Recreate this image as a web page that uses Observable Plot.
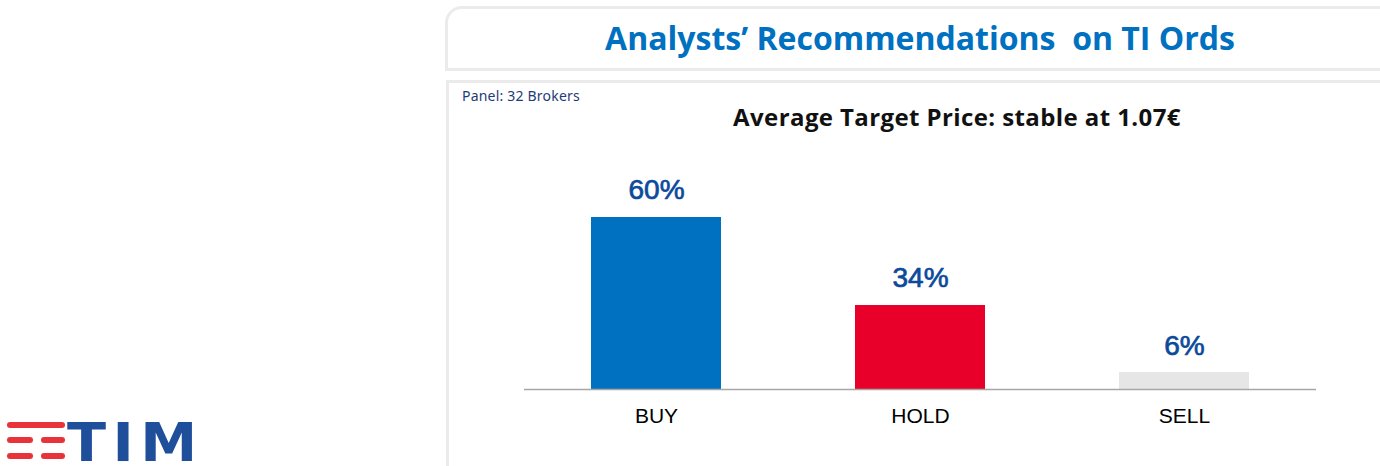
<!DOCTYPE html>
<html>
<head>
<meta charset="utf-8">
<script src="https://cdn.jsdelivr.net/npm/d3@7"></script>
<script src="https://cdn.jsdelivr.net/npm/@observablehq/plot@0.6"></script>
<style>
  html, body { margin: 0; padding: 0; background: #fff; }
  #page { position: relative; width: 1380px; height: 466px; overflow: hidden; font-family: "Liberation Sans", Arial, sans-serif; }
  #titlebox { position: absolute; left: 445px; top: 6px; width: 960px; height: 59px; border: 3px solid #ebebeb; border-top-left-radius: 17px; }
  #title { position: absolute; left: 453px; width: 934px; top: 18px; text-align: center; color: #0070c0; font-family: "Open Sans", sans-serif; font-weight: 700; font-size: 32px; line-height: 40px; letter-spacing: 0px; white-space: pre; }
  #panelbox { position: absolute; left: 446px; top: 80px; width: 960px; height: 420px; border: 3px solid #ebebeb; }
  #panel { position: absolute; left: 462px; top: 87px; color: #1f3a78; font-family: "Noto Sans", sans-serif; font-size: 14px; line-height: 18px; letter-spacing: 0.2px; }
  #subtitle { position: absolute; left: 446px; width: 1022px; top: 101px; text-align: center; color: #111; font-family: "Open Sans", sans-serif; font-weight: 700; font-size: 24px; line-height: 32px; letter-spacing: 0.4px; }
  #chart { position: absolute; left: 0; top: 0; }
  .stripe { position: absolute; background: #e8333a; border-radius: 3px; height: 6px; }
  #tim { position: absolute; left: 67px; top: 421px; color: #1f4e9b; font-family: "DejaVu Sans", sans-serif; font-weight: 700; font-size: 53px; line-height: 44px; letter-spacing: 6px; white-space: nowrap; transform: scaleX(1.08); transform-origin: left top; }
</style>
</head>
<body>
<div id="page">
  <div id="titlebox"></div>
  <div id="title">Analysts’ Recommendations  on TI Ords</div>
  <div id="panelbox"></div>
  <div id="panel">Panel: 32 Brokers</div>
  <div id="subtitle">Average Target Price: stable at 1.07€</div>
  <div id="chart"></div>
  <div class="stripe" style="left:7px;top:422px;width:58px;"></div>
  <div class="stripe" style="left:7px;top:437px;width:26px;"></div>
  <div class="stripe" style="left:41px;top:437px;width:24px;"></div>
  <div class="stripe" style="left:7px;top:453px;width:26px;"></div>
  <div class="stripe" style="left:41px;top:453px;width:24px;"></div>
  <div id="tim">TIM</div>
</div>
<script>
const categories = ["BUY", "HOLD", "SELL"];
const barValues = [60, 29.3, 5.9];
const valueLabels = ["60%", "34%", "6%"];
const barColors = ["#0070c0", "#e8002a", "#e6e6e6"];

const data = categories.map((c, i) => ({cat: c, value: barValues[i], label: valueLabels[i], color: barColors[i]}));

const chart = Plot.plot({
  width: 1380,
  height: 466,
  marginLeft: 524,
  marginRight: 64,
  marginTop: 217,
  marginBottom: 77,
  style: {background: "transparent", overflow: "visible"},
  x: {domain: categories, paddingInner: 0.508, paddingOuter: 0.254, label: null},
  y: {domain: [0, 60], axis: null},
  marks: [
    Plot.barY(data, {x: "cat", y: "value", fill: "color"}),
    Plot.ruleY([0], {stroke: "#a6a6a6", strokeWidth: 1.5}),
    Plot.text(data, {x: "cat", y: "value", text: "label", dy: -27, fill: "#0b4a9b", stroke: "#0b4a9b", strokeWidth: 0.7, fontSize: 28, fontWeight: 400, fontFamily: "Liberation Sans, Arial, sans-serif"}),
    Plot.axisX({tickSize: 0, tickPadding: 19, fontSize: 21, fontFamily: "Liberation Sans, Arial, sans-serif", fill: "#000", stroke: "#000", strokeWidth: 0.3, label: null})
  ]
});
document.getElementById("chart").appendChild(chart);
</script>
</body>
</html>
